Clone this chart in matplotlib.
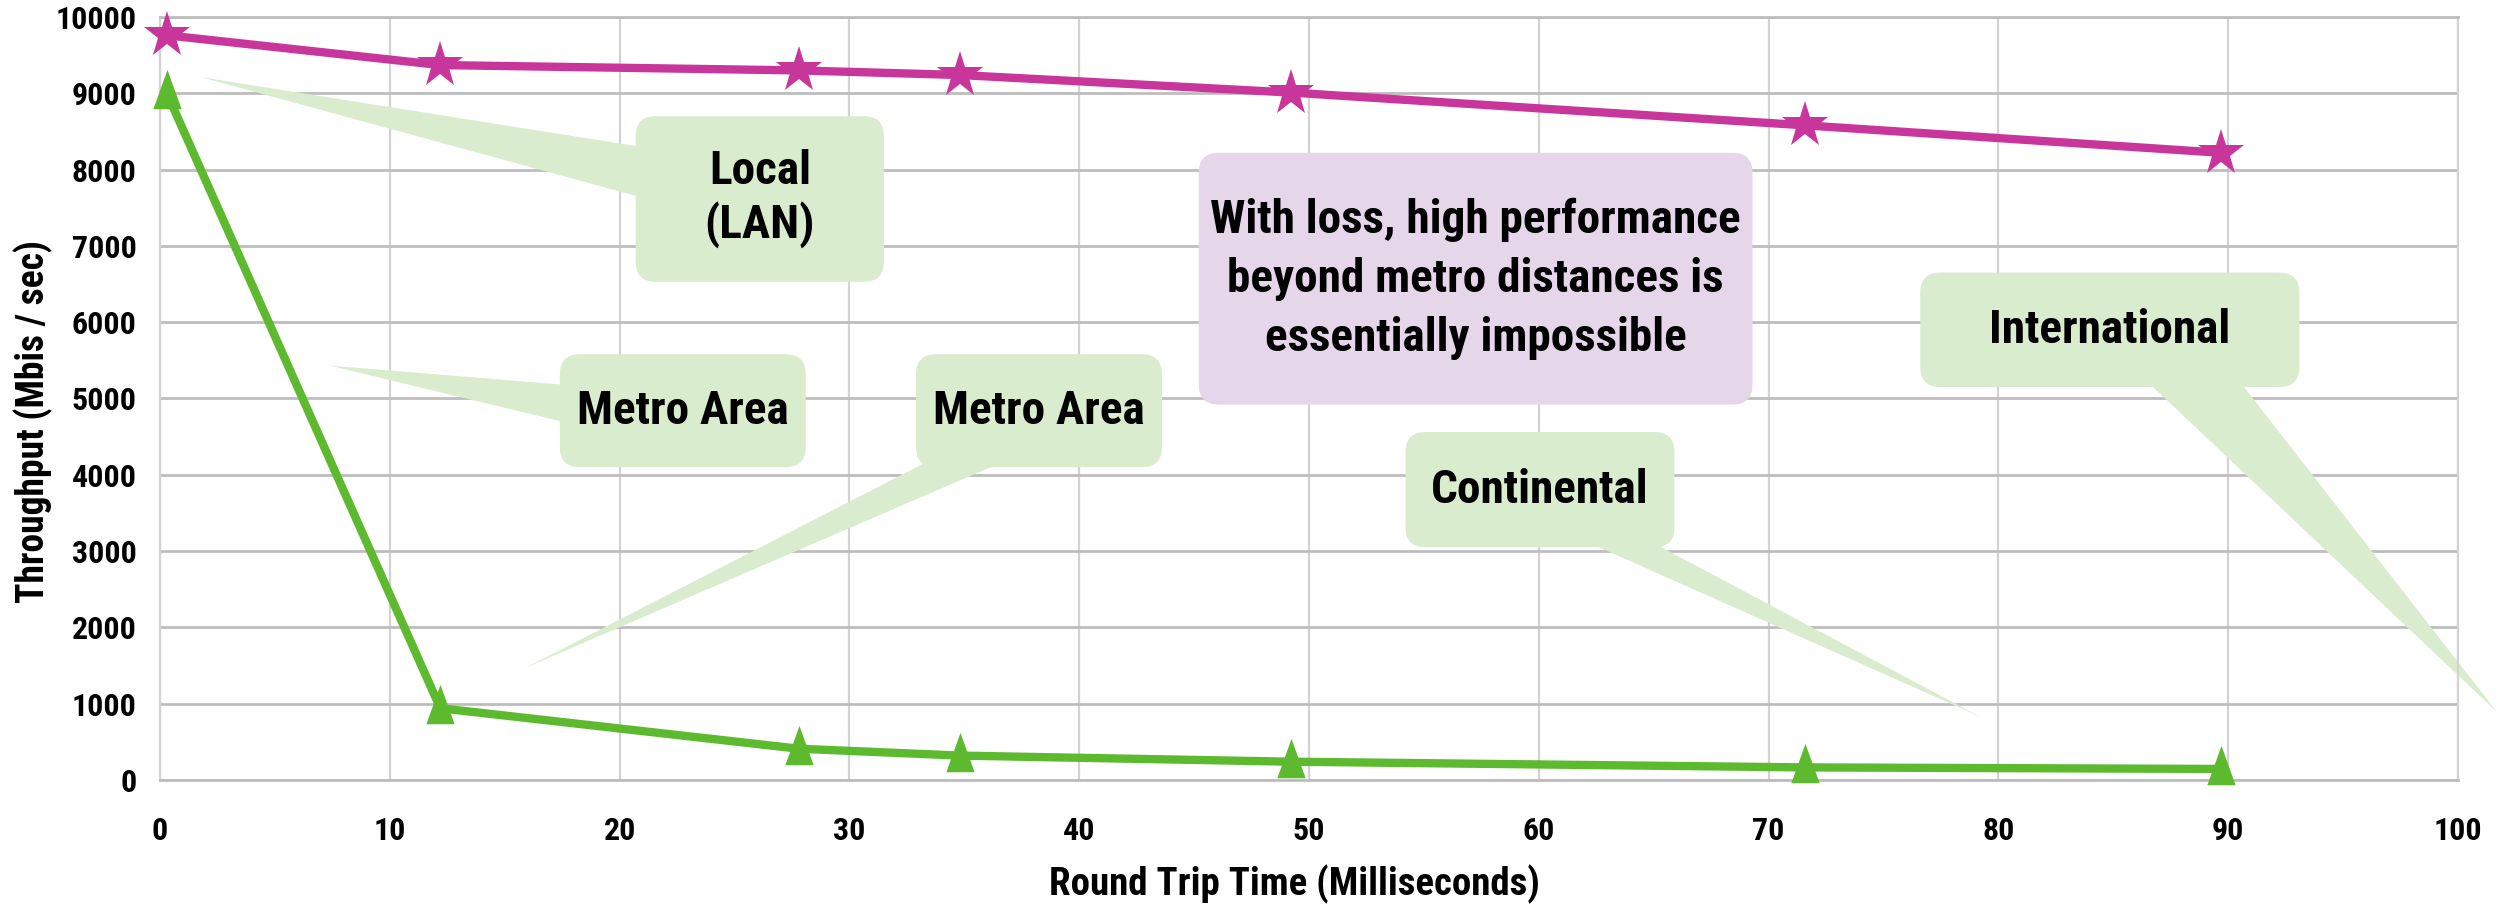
import os
import matplotlib
matplotlib.use("Agg")
import matplotlib.pyplot as plt
import matplotlib.transforms as mtransforms
from matplotlib import font_manager as fm
from matplotlib.patches import FancyBboxPatch, Polygon
from matplotlib.path import Path

# ---- data -------------------------------------------------------------
rtt_ms = [0.3, 12.2, 27.8, 34.8, 49.2, 71.6, 89.7]
throughput_clean = [9760, 9370, 9300, 9240, 9010, 8580, 8220]
throughput_lossy = [9000, 940, 410, 320, 240, 165, 145]

x_ticks = list(range(0, 101, 10))
y_ticks = list(range(0, 10001, 1000))

x_label = "Round Trip Time (Milliseconds)"
y_label = "Throughput (Mbis / sec)"

# ---- colours ----------------------------------------------------------
PINK = "#C8369C"
GREEN = "#5DBA2F"
CALLOUT_GREEN = "#D9ECCE"
CALLOUT_PURPLE = "#E5D6EA"
GRID_H = "#BDBDBD"
GRID_V = "#D2D2D2"

# ---- callouts (box corners, wedge base and tip in data units) ---------
callouts = [
    dict(text="Local\n(LAN)", box=(20.7, 31.5, 6530, 8700), ls=1.22,
         wedge=[(20.9, 8300), (20.9, 7640), (1.8, 9210)], fc=CALLOUT_GREEN),
    dict(text="Metro Area", box=(17.4, 28.1, 4100, 5580), ls=1.2,
         wedge=[(17.6, 5180), (17.6, 4690), (7.4, 5430)], fc=CALLOUT_GREEN),
    dict(text="Metro Area", box=(32.9, 43.6, 4100, 5580), ls=1.2,
         wedge=[(33.9, 4250), (37.3, 4250), (15.9, 1470)], fc=CALLOUT_GREEN),
    dict(text="With loss, high performance\nbeyond metro distances is\nessentially impossible",
         box=(45.2, 69.3, 4920, 8220), ls=1.42, wedge=None, fc=CALLOUT_PURPLE),
    dict(text="Continental", box=(54.2, 65.9, 3050, 4560), ls=1.2,
         wedge=[(61.5, 3200), (64.4, 3200), (79.2, 830)], fc=CALLOUT_GREEN),
    dict(text="International", box=(76.6, 93.1, 5150, 6650), ls=1.2,
         wedge=[(86.2, 5300), (90.3, 5300), (101.7, 890)], fc=CALLOUT_GREEN),
]


def condensed_bold():
    stems = ["RobotoCondensed-Bold", "LiberationSansNarrow-Bold",
             "OpenSans_Condensed-Bold", "OpenSansCondensed-Bold",
             "DejaVuSansCondensed-Bold"]
    files = {os.path.splitext(os.path.basename(f.fname))[0].lower(): f.fname
             for f in fm.fontManager.ttflist}
    for s in stems:
        if s.lower() in files:
            return fm.FontProperties(fname=files[s.lower()])
    return fm.FontProperties(family="DejaVu Sans", weight="bold",
                             stretch="condensed")


BASE_FONT = condensed_bold()


def font(size):
    p = BASE_FONT.copy()
    p.set_size(size)
    return p


# ---- figure -----------------------------------------------------------
W, H, DPI = 2501, 910, 100
fig = plt.figure(figsize=(W / DPI, H / DPI), dpi=DPI)
ax_left, ax_right, ax_top, ax_bottom = 160, 2458, 17, 780
ax = fig.add_axes([ax_left / W, 1 - ax_bottom / H,
                   (ax_right - ax_left) / W, (ax_bottom - ax_top) / H])

ax.set_xlim(0, 100)
ax.set_ylim(0, 10000)
ax.set_xticks(x_ticks)
ax.set_yticks(y_ticks)
ax.set_xticklabels([str(v) for v in x_ticks])
ax.set_yticklabels([str(v) for v in y_ticks])
ax.tick_params(length=0)
ax.tick_params(axis="x", pad=26)
ax.tick_params(axis="y", pad=17)
for lbl in ax.get_xticklabels() + ax.get_yticklabels():
    lbl.set_fontproperties(font(23))

ax.yaxis.grid(True, color=GRID_H, linewidth=2.0, zorder=0)
ax.xaxis.grid(True, color=GRID_V, linewidth=1.6, zorder=0)
ax.set_axisbelow(True)
for side, sp in ax.spines.items():
    sp.set_color(GRID_H if side in ("top", "bottom") else GRID_V)
    sp.set_linewidth(2.0 if side in ("top", "bottom") else 1.6)

ax.set_xlabel(x_label, fontproperties=font(28), va="center")
ax.xaxis.set_label_coords(0.4935, -0.137)
ax.set_ylabel(y_label, fontproperties=font(27), va="center")
ax.yaxis.set_label_coords(-0.055, 0.47)

# ---- callouts ---------------------------------------------------------
to_px = ax.transData.transform
ident = mtransforms.IdentityTransform()
for c in callouts:
    x0, x1, y0, y1 = c["box"]
    if c["wedge"] is not None:
        pts = to_px(c["wedge"])
        ax.add_patch(Polygon(pts, closed=True, facecolor=c["fc"],
                             edgecolor="none", transform=ident,
                             clip_on=False, zorder=2))
    (px0, py0), (px1, py1) = to_px([(x0, y0), (x1, y1)])
    ax.add_patch(FancyBboxPatch((px0, py0), px1 - px0, py1 - py0,
                                boxstyle="round,pad=0,rounding_size=20",
                                facecolor=c["fc"], edgecolor="none",
                                transform=ident, clip_on=False, zorder=3))
    ax.text((x0 + x1) / 2, (y0 + y1) / 2, c["text"], ha="center",
            va="center", multialignment="center", linespacing=c["ls"],
            fontproperties=font(34), color="black", zorder=4)

# ---- series -----------------------------------------------------------
triangle = Path([(0, 0.6), (-0.36, -0.4), (0.36, -0.4), (0, 0.6)],
                [Path.MOVETO, Path.LINETO, Path.LINETO, Path.CLOSEPOLY])

ax.plot(rtt_ms, throughput_clean, color=PINK, linewidth=6,
        marker="*", markersize=35, markeredgewidth=0,
        markerfacecolor=PINK, zorder=5, clip_on=False)
ax.plot(rtt_ms, throughput_lossy, color=GREEN, linewidth=6,
        marker=triangle, markersize=34, markeredgewidth=0,
        markerfacecolor=GREEN, zorder=5, clip_on=False)

fig.savefig("out.png", dpi=DPI, facecolor="white")
